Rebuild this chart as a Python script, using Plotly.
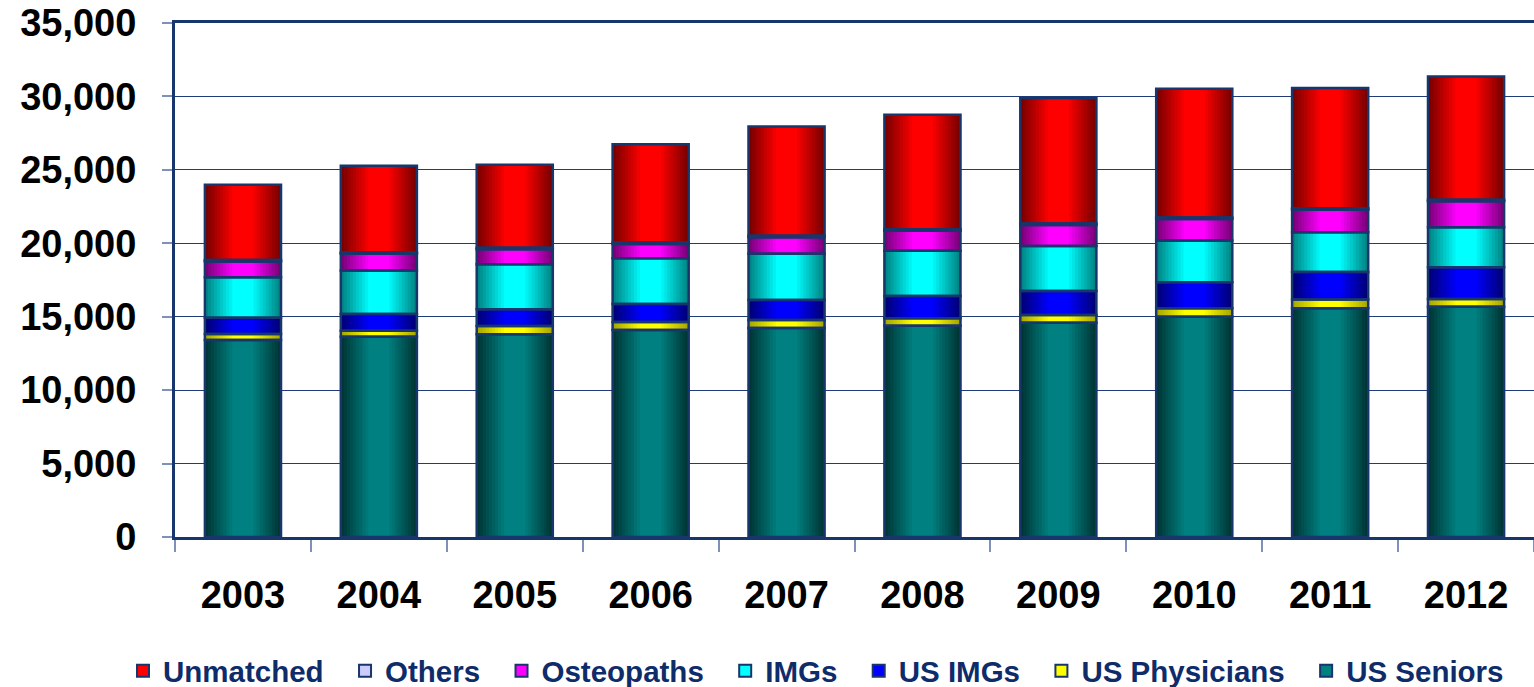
import plotly.graph_objects as go

# Residency match applicants by year and applicant type
years = ["2003", "2004", "2005", "2006", "2007", "2008", "2009", "2010", "2011", "2012"]
us_seniors = [13410, 13640, 13800, 14090, 14230, 14390, 14590, 15000, 15570, 15680]
us_physicians = [410, 410, 570, 550, 550, 500, 520, 570, 610, 530]
us_imgs = [1110, 1140, 1140, 1230, 1360, 1520, 1640, 1780, 1860, 2160]
imgs = [2750, 2950, 3070, 3110, 3140, 3090, 3070, 2840, 2710, 2730]
osteopaths = [1080, 1140, 1010, 970, 1130, 1360, 1430, 1470, 1540, 1760]
others = [110, 100, 100, 100, 100, 100, 100, 100, 100, 100]
unmatched = [5110, 5900, 5660, 6700, 7450, 7790, 8540, 8770, 8180, 8400]

y_ticks = [0, 5000, 10000, 15000, 20000, 25000, 30000, 35000]

# stacking order bottom -> top, with (edge colour, centre colour) for the cylinder shading
series = [
    ("US Seniors", us_seniors, "#003636", "#008080"),
    ("US Physicians", us_physicians, "#A8A800", "#FFFF00"),
    ("US IMGs", us_imgs, "#000078", "#0000FF"),
    ("IMGs", imgs, "#008585", "#00FFFF"),
    ("Osteopaths", osteopaths, "#7A007A", "#FF00FF"),
    ("Others", others, "#6A6A9A", "#CCCCFF"),
    ("Unmatched", unmatched, "#7A0000", "#FF0000"),
]

NAVY = "#17366B"
BAR_W = 0.56
LAYERS = 10
FONT = "Liberation Sans, Arial, sans-serif"

W, H = 1534, 687
M_L, M_R, M_T, M_B = 175, 0, 23, 150


def mix(c1, c2, t):
    a = [int(c1[i:i + 2], 16) for i in (1, 3, 5)]
    b = [int(c2[i:i + 2], 16) for i in (1, 3, 5)]
    return "#" + "".join(f"{round(x + (y - x) * t):02X}" for x, y in zip(a, b))


fig = go.Figure()

bases = [0] * len(years)
stack = []
for name, vals, edge, centre in series:
    stack.append((name, vals, list(bases), edge, centre))
    bases = [b + v for b, v in zip(bases, vals)]

# shaded fills: nested bars getting narrower and brighter toward the centre
for name, vals, base, edge, centre in stack:
    for k in range(LAYERS):
        t = k / (LAYERS - 1)
        fig.add_trace(go.Bar(
            x=years, y=vals, base=base,
            width=BAR_W * (1 - 0.72 * t),
            marker=dict(color=mix(edge, centre, t), line=dict(width=0)),
            showlegend=False, hoverinfo="skip",
        ))

# segment outlines
for name, vals, base, edge, centre in stack:
    fig.add_trace(go.Bar(
        x=years, y=vals, base=base, width=BAR_W, name=name,
        marker=dict(color="rgba(0,0,0,0)", line=dict(color=NAVY, width=2.5)),
        showlegend=False,
    ))

# legend entries, top of stack first; trailing no-break spaces widen the gaps
legend_items = list(reversed(stack))
for i, (name, vals, base, edge, centre) in enumerate(legend_items):
    label = name if i == len(legend_items) - 1 else name + "\u00a0\u00a0"
    fig.add_trace(go.Bar(
        x=[None], y=[None], name=label,
        marker=dict(color=centre, line=dict(color=NAVY, width=2)),
        showlegend=True,
    ))

plot_w = W - M_L - M_R
plot_h = H - M_T - M_B

fig.update_layout(
    width=W, height=H,
    barmode="overlay",
    paper_bgcolor="white", plot_bgcolor="white",
    margin=dict(l=M_L, r=M_R, t=M_T, b=M_B, autoexpand=False),
    font=dict(family=FONT),
    legend=dict(
        orientation="h",
        x=(123 - M_L) / plot_w, xanchor="left",
        y=-(671 - (H - M_B)) / plot_h, yanchor="middle",
        traceorder="normal",
        font=dict(size=29.5, color="#0E2C6A", family=FONT, weight="bold"),
        itemwidth=30, tracegroupgap=0,
    ),
    xaxis=dict(
        type="category", categoryorder="array", categoryarray=years,
        range=[-0.5, len(years) - 0.5],
        showline=True, linecolor=NAVY, linewidth=3, mirror=True,
        ticks="outside", tickson="boundaries", ticklen=12, tickcolor="#7F91B8", tickwidth=1.5,
        tickfont=dict(size=38, color="black", weight="bold"),
        ticklabelstandoff=22,
        showgrid=False,
    ),
    yaxis=dict(
        range=[0, 35000], tickvals=y_ticks, tickformat=",d",
        showline=True, linecolor=NAVY, linewidth=3,
        ticks="outside", ticklen=10, tickcolor="#7F91B8", tickwidth=1.5,
        tickfont=dict(size=38, color="black", weight="bold"),
        ticklabelstandoff=18,
        showgrid=True, gridcolor="#1F3C78", gridwidth=1,
        zeroline=False,
    ),
)

fig.write_html("out.html")
